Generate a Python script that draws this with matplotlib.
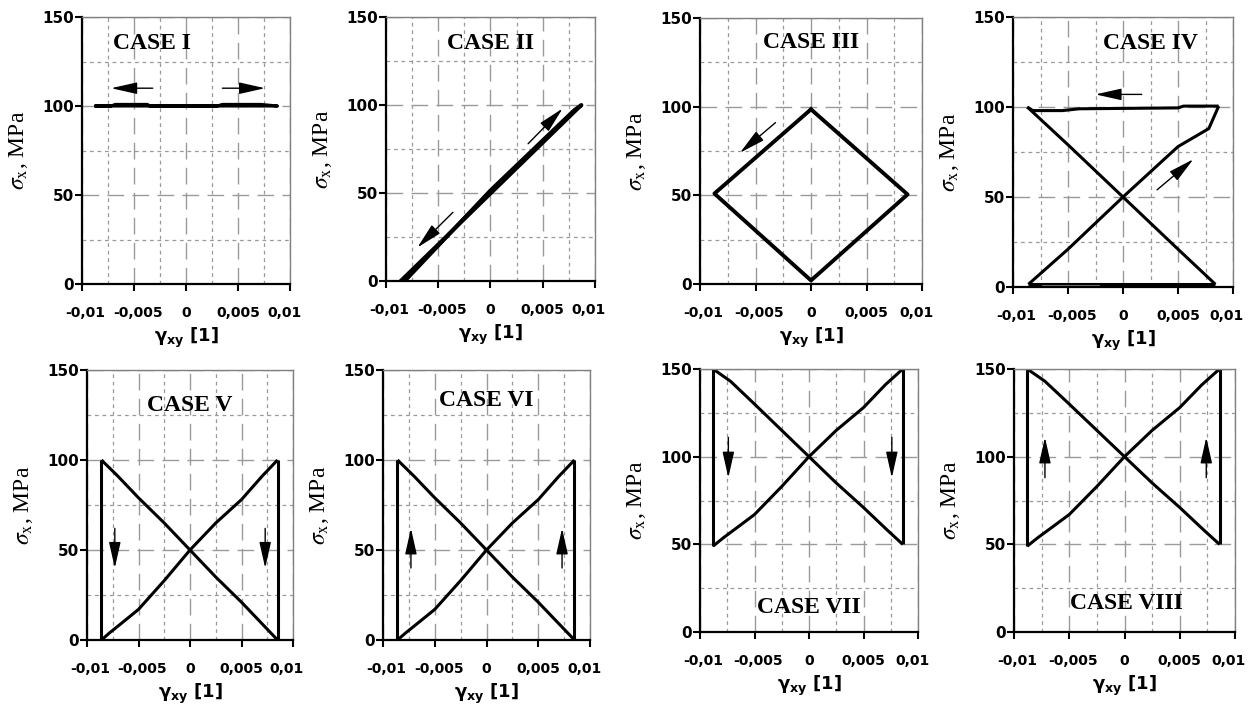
import matplotlib
matplotlib.use("Agg")
import matplotlib.pyplot as plt
from matplotlib.transforms import ScaledTranslation

W, H = 1258, 715

x_ticks = [-0.01, -0.005, 0, 0.005, 0.01]
x_tick_labels = ["-0,01", "-0,005", "0", "0,005", "0,01"]
x_minor = [-0.0075, -0.0025, 0.0025, 0.0075]
y_ticks = [0, 50, 100, 150]
y_minor = [25, 75, 125]

case_names = ["CASE I", "CASE II", "CASE III", "CASE IV",
              "CASE V", "CASE VI", "CASE VII", "CASE VIII"]
case_title_xy = [(-0.0033, 135), (0.0, 135), (0.0, 136), (0.0025, 135.5),
                 (0.0, 130.5), (0.0, 133), (0.0, 14), (0.0002, 16.5)]

# CASE I: loading along sigma_x = 100 forth and back
c1_x = [-0.0088, 0.0088, 0.0072, 0.0035, 0.0030, -0.0035, -0.0037, -0.0068, -0.0072, -0.0088]
c1_y = [100, 100, 100.9, 100.9, 100, 100, 100.9, 100.9, 100, 100]

# CASE II: proportional
c2_x = [-0.0086, 0.0087, 0.0080, 0.0, -0.0082]
c2_y = [0, 100, 97, 51.5, 0]

# CASE III: diamond
c3_x = [0.0, -0.0087, 0.0, 0.0087, 0.0]
c3_y = [98.5, 51, 2, 50.5, 98.5]

# CASE IV
c4_top_x = [0.0087, 0.0055, 0.0050, -0.0040, -0.0055, -0.0082, -0.0087]
c4_top_y = [100.5, 100.5, 99.5, 99, 98, 98, 100]
c4_desc_x = [-0.0087, -0.005, 0.0, 0.005, 0.0084]
c4_desc_y = [100, 79, 50, 21, 1.5]
c4_bot_x = [0.0084, -0.0086]
c4_bot_y = [1.5, 1.5]
c4_bot2_x = [-0.0073, -0.0022]
c4_bot2_y = [0.8, 0.8]
c4_asc_x = [-0.0086, -0.005, 0.0, 0.005, 0.0078, 0.0087]
c4_asc_y = [1.5, 21, 50, 78, 88, 100.5]

# CASES V, VI: 0..100
low_asc_x = [-0.0086, -0.0078, -0.0065, -0.005, -0.0025, 0.0, 0.0025, 0.005, 0.007, 0.0085]
low_asc_y = [0, 4, 10, 17, 33, 50, 65, 78, 91, 100]
low_desc_x = [-0.0086, -0.007, -0.005, -0.0025, 0.0, 0.0025, 0.005, 0.007, 0.0085]
low_desc_y = [100, 91, 79, 65, 50, 35, 21, 9, 0]

# CASES VII, VIII: 50..150
high_asc_x = [-0.0088, -0.0078, -0.0065, -0.005, -0.0025, 0.0, 0.0025, 0.005, 0.007, 0.0086]
high_asc_y = [49, 54, 60, 67, 83, 100, 115, 128, 141, 150]
high_desc_x = [-0.0088, -0.0072, -0.005, -0.0025, 0.0, 0.0025, 0.005, 0.0072, 0.0086]
high_desc_y = [150, 143, 130, 115, 100, 85, 71, 58, 50]

# arrows: (tail_x, tail_y, tip_x, tip_y)
case_arrows = [
    [(-0.0032, 110, -0.0072, 110), (0.0035, 110, 0.0076, 110)],
    [(0.0036, 78, 0.0069, 98), (-0.0036, 39, -0.0070, 19)],
    [(-0.0032, 91, -0.0064, 74)],
    [(0.0017, 107, -0.0025, 107), (0.0031, 54, 0.0064, 71)],
    [(-0.0073, 62, -0.0073, 40), (0.0073, 62, 0.0073, 40)],
    [(-0.0073, 40, -0.0073, 62), (0.0073, 40, 0.0073, 62)],
    [(-0.0074, 111, -0.0074, 88), (0.0076, 111, 0.0076, 88)],
    [(-0.0072, 88, -0.0072, 111), (0.0074, 88, 0.0074, 111)],
]

# axes boxes in pixels: left, top, right, bottom
boxes = [(82, 17, 290, 284), (386, 17, 595, 281), (700, 18, 922, 284), (1013, 17, 1233, 287),
         (87, 370, 293, 640), (383, 370, 590, 640), (700, 369, 918, 632), (1014, 369, 1235, 632)]
# small horizontal nudges (px) of the x tick labels, as laid out in the original
x_label_shift = [3, 4, 0, 0, -6]

LW = 2.2
GRID = "#9a9a9a"

fig = plt.figure(figsize=(W / 100, H / 100), dpi=100)


def style(ax, wpx, hpx):
    ax.set_xlim(-0.01, 0.01)
    ax.set_ylim(0, 150)
    ax.set_xticks(x_ticks)
    ax.set_xticklabels(x_tick_labels)
    ax.set_yticks(y_ticks)
    ax.set_xticks(x_minor, minor=True)
    ax.set_yticks(y_minor, minor=True)
    ax.tick_params(which="minor", length=0)
    ax.tick_params(which="major", direction="out", length=5, width=1.5)
    ax.tick_params(axis="x", pad=11, labelsize=10)
    ax.tick_params(axis="y", pad=0.5, labelsize=11)
    xl = ax.get_xticklabels()
    for lab in xl + ax.get_yticklabels():
        lab.set_fontweight("bold")
    for lab, dx in zip(xl, x_label_shift):
        if dx:
            lab.set_transform(lab.get_transform() + ScaledTranslation(dx / 100, 0, fig.dpi_scale_trans))
    ax.grid(which="major", color=GRID, lw=1, linestyle=(0, (12, 6)))
    ax.grid(which="minor", color=GRID, lw=0.9, linestyle=(0, (3, 3)))
    ax.set_axisbelow(True)
    for s in ("left", "bottom"):
        ax.spines[s].set_linewidth(1.6)
        ax.spines[s].set_color("k")
    for s in ("top", "right"):
        ax.spines[s].set_linewidth(1)
        ax.spines[s].set_color("#808080")
    ax.set_xlabel(r"$\mathbf{\gamma_{xy}}$ [1]", fontsize=13, fontweight="bold",
                  math_fontfamily="dejavusans")
    ax.xaxis.set_label_coords(0.5, -42 / hpx)
    ax.set_ylabel(r"$\sigma_{\mathrm{x}}$, MPa", fontsize=17, family="Liberation Serif",
                  math_fontfamily="stix")
    ax.yaxis.set_label_coords(-52 / wpx, 0.5)


axes = []
for (l, t, r, b) in boxes:
    ax = fig.add_axes([l / W, 1 - b / H, (r - l) / W, (b - t) / H])
    style(ax, r - l, b - t)
    axes.append(ax)

kw = dict(color="k", lw=LW, solid_joinstyle="round", solid_capstyle="butt")

axes[0].plot(c1_x, c1_y, **kw)
axes[1].plot(c2_x, c2_y, color="k", lw=2.8, solid_joinstyle="round")
axes[2].plot(c3_x, c3_y, color="k", lw=2.8, solid_joinstyle="round")

ax = axes[3]
ax.plot(c4_top_x, c4_top_y, **kw)
ax.plot(c4_desc_x, c4_desc_y, **kw)
ax.plot(c4_bot_x, c4_bot_y, **kw)
ax.plot(c4_bot2_x, c4_bot2_y, color="#777777", lw=1.5)
ax.plot(c4_asc_x, c4_asc_y, **kw)

for i, (ax_, dx, dy) in enumerate([(axes[4], low_desc_x, low_desc_y), (axes[5], low_desc_x, low_desc_y),
                                   (axes[6], high_desc_x, high_desc_y), (axes[7], high_desc_x, high_desc_y)]):
    ax_x = low_asc_x if i < 2 else high_asc_x
    ax_y = low_asc_y if i < 2 else high_asc_y
    ax_.plot(ax_x, ax_y, **kw)
    ax_.plot(dx, dy, **kw)
    ax_.plot([ax_x[0], dx[0]], [ax_y[0], dy[0]], **kw)
    ax_.plot([ax_x[-1], dx[-1]], [ax_y[-1], dy[-1]], **kw)

for ax, name, (tx, ty), arrows in zip(axes, case_names, case_title_xy, case_arrows):
    ax.text(tx, ty, name, ha="center", va="center", family="Liberation Serif",
            weight="bold", fontsize=17, zorder=5)
    for (x0, y0, x1, y1) in arrows:
        ax.annotate("", xy=(x1, y1), xytext=(x0, y0),
                    arrowprops=dict(arrowstyle="-|>,head_length=0.8,head_width=0.18",
                                    lw=1, color="k", shrinkA=0, shrinkB=0,
                                    mutation_scale=20))

fig.savefig("out.png", dpi=100)
